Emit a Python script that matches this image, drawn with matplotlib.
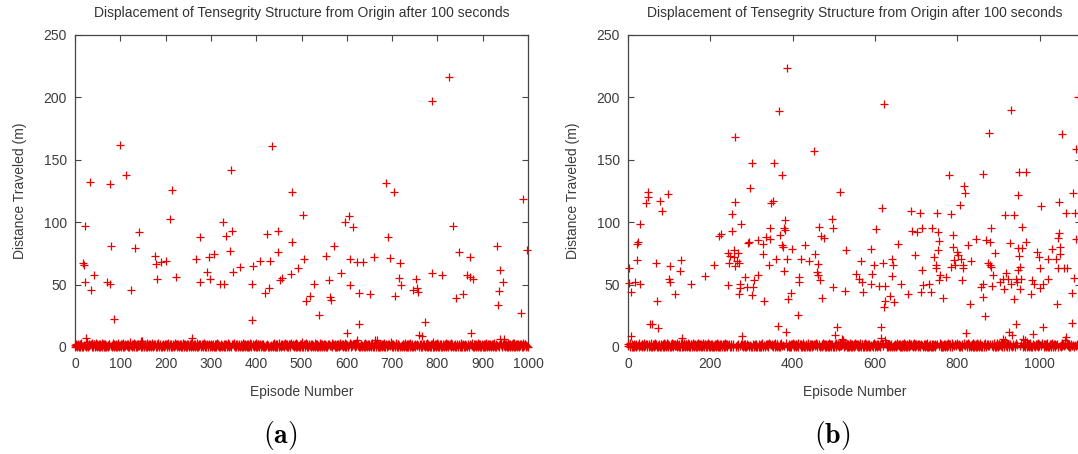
import numpy as np
import matplotlib
matplotlib.use("Agg")
import matplotlib.pyplot as plt

plt.rcParams['font.family'] = ['Liberation Sans', 'DejaVu Sans']
plt.rcParams['mathtext.fontset'] = 'cm'

TITLE = "Displacement of Tensegrity Structure from Origin after 100 seconds"
XLABEL = "Episode Number"
YLABEL = "Distance Traveled (m)"
PANEL_LABELS = [r"$\mathbf{(a)}$", r"$\mathbf{(b)}$"]
YTICKS = [0, 50, 100, 150, 200, 250]
XTICKS_A = [0, 100, 200, 300, 400, 500, 600, 700, 800, 900, 1000]
XTICKS_B = [0, 200, 400, 600, 800, 1000]
XLIM_A = (0, 1000)
XLIM_B = (0, 1100)
YLIM = (0, 250)

# Near-zero episodes: one digit per episode, each digit = 0.7 m
BASE_STEP = 0.7
BASE_A = (
    "2013021402310520130241032016203140213052013402150312041302150230140320512031402130251403210420315023"
    "1302410520312014023106201304215031024013201420315023104201350213041203150241032013052014203102140231"
    "0413025102301420312051302401320140230152031420130241031250140231402130520134021031402501320412031502"
    "3120410230140251302140312051302401320514021302410315201304210312041302501420312040130251042031402130"
    "5203140213024103201502134021503120413021502301403205120314021302514032104203150231302410520312014023"
    "1062013042150310240132014203150231042013502130412031402501320412031502312041023014025130214031205130"
    "2401320514021302410315201304210312041302501420312040130251042031402130201302140231052013024103201620"
    "3140213052013402150312041302150230140320512031402130251403210420315023130241052031201402310620130421"
    "5031024013201420315023104201350213041203150241032013052014203102140231041302510230142031205130240132"
    "0140230152031420130241031250140231402130520134021031402501320412031502520314021302410320150213402150"
)
BASE_B = (
    "1302502140302140512031402305120213402150321042031502413025104120315023014021305203120415023102510420"
    "2031405213024130215031204130251042031502413021502301403205120314021302514032104203150231302410520312"
    "0140231062013042150310240132014203150231042013502130412031502410320130520142031021402310413025102301"
    "4203120513024013201402301520314201302410312501402314021305201340210314025013204120315023120410230140"
    "2513021403120513024013205140213024103152013042103120413025014203120401302510420314021305203140213024"
    "1032015021340215031204130215023014032051203140213025140321042031502313024105203120140231062013042150"
    "3102401320142031502310420135021304120314025013204120315023120410230140251302140312051302401320514021"
    "3024103152013042103120413025014203120401302510420314021305201302502140302140512031402305120213402150"
    "3210420315024130251041203150230140213052031204150231025104202031405213024130215031204130251042031502"
    "4130215023014032051203140213025140321042031502313024105203120140231062013042150310240132014203150231"
    "0420135021304120315024103201305201420310214023104130251023014203120513024013201402301520314201302410"
)

# Episodes that moved well away from the origin: (episode, distance in m)
OUT_EP_A = [33, 77, 99, 113, 214, 345, 434, 480, 686, 705, 787, 826, 988,
            22, 17, 20, 23, 35, 41, 24, 80, 70, 78, 85, 123, 133, 141, 209,
            176, 178, 180, 190, 200, 223, 259, 268, 276, 277, 292, 296, 297,
            307, 320, 330, 326, 333, 347, 343, 348, 365, 390, 391, 394, 408,
            423, 430, 419, 428, 448, 449, 453, 458, 476, 478, 493, 503, 505,
            510, 518, 527, 539, 555, 560, 564, 565, 571, 587, 597, 604, 614,
            606, 608, 601, 622, 635, 628, 627, 623, 651, 659, 663, 692, 695,
            706, 717, 716, 719, 746, 753, 756, 757, 759, 773, 789, 810, 835,
            848, 841, 856, 873, 865, 872, 879, 874, 932, 939, 945, 946, 937,
            934, 938, 984, 998, 146, 148, 766, 667]
OUT_VAL_A = [132.5, 130.6, 161.6, 137.6, 125.6, 141.6, 160.8, 124.2, 131.2, 124.2, 196.9, 216.3, 118.6,
             97.2, 67.6, 65.5, 52.3, 45.9, 57.9, 7.5, 81.2, 51.8, 50.2, 22.7, 45.4, 79.1, 92.4, 102.8,
             72.9, 66.5, 54.5, 68.4, 68.9, 55.8, 7.5, 70.3, 88.1, 52.3, 59.8, 72.4, 54.5,
             74.5, 50.2, 50.2, 99.9, 88.9, 93.2, 77.2, 59.8, 63.8, 50.7, 21.6, 65.2, 68.9,
             90.5, 68.9, 43.3, 47.3, 92.9, 75.9, 53.7, 55.5, 58.5, 84.1, 63.3, 106.0, 70.8,
             36.9, 40.6, 50.2, 25.4, 72.9, 53.7, 39.8, 37.7, 80.7, 59.3, 99.9, 105.0, 95.9,
             70.3, 49.4, 11.5, 68.4, 68.4, 43.3, 18.4, 5.6, 42.7, 72.4, 5.6, 88.1, 71.6,
             41.1, 67.5, 55.0, 49.4, 45.7, 54.5, 47.0, 44.3, 9.3, 20.3, 59.0, 57.7, 97.2,
             75.9, 39.3, 42.5, 72.4, 57.9, 56.1, 54.5, 11.5, 80.7, 61.9, 52.3, 6.4, 44.9,
             33.7, 6.7, 27.5, 77.7, 4.8, 5.0, 9.0, 5.6]

OUT_EP_B = [386, 367, 260, 451, 300, 354, 375, 297, 49, 48, 98,
            43, 78, 82, 29, 25, 23, 22, 2, 3, 7, 16, 30, 67, 71, 99, 102, 103, 115,
            128, 126, 153, 187, 208, 220, 225, 244, 243, 248, 246, 253, 252, 259, 258,
            257, 261, 264, 267, 270, 275, 271, 272, 269, 284, 288, 291, 293, 301, 304,
            307, 315, 316, 328, 329, 330, 335, 342, 344, 345, 347, 351, 359, 364, 368,
            373, 377, 378, 381, 380, 382, 383, 387, 389, 397, 399, 415, 416, 414, 430,
            420, 439, 455, 461, 459, 462, 465, 468, 467, 472, 475, 495, 498, 499, 503,
            507, 516, 54, 58, 72, 8, 130,
            621, 929, 876, 1055, 1087, 779, 863, 950, 967, 815, 819, 947, 1080, 1092,
            530, 528, 520, 617, 602, 589, 566, 554, 562, 568, 571, 593, 597, 591, 609,
            625, 618, 624, 622, 637, 645, 642, 643, 641, 655, 662, 615, 614, 679, 686,
            708, 689, 701, 714, 698, 713, 716, 711, 730, 735, 739, 750, 753, 755, 752,
            743, 748, 749, 758, 756, 771, 764, 785, 790, 788, 799, 802, 791, 784, 795,
            809, 814, 813, 811, 807, 825, 832, 830, 821, 846, 857, 862, 861, 869, 878,
            882, 875, 879, 881, 886, 883, 892, 868, 916, 937, 957, 928, 948, 956, 949,
            966, 953, 946, 917, 911, 922, 903, 914, 930, 942, 944, 955, 951, 938, 941,
            926, 932, 958, 910, 979, 982, 986, 992, 997, 1000, 1001, 1008, 1020, 1021,
            1029, 1003, 1046, 1047, 1044, 1050, 1048, 1039, 1045, 1058, 1066, 1064, 1085,
            1088, 1082, 1079, 1041, 1077, 1063, 1007,
            276, 522, 623, 915, 965, 984, 1062]
OUT_VAL_B = [223.3, 189.4, 168.5, 156.8, 147.2, 147.7, 138.1, 127.2, 124.2, 120.0, 122.4,
             115.6, 117.2, 109.0, 98.8, 84.1, 82.8, 69.7, 63.3, 51.5, 44.3, 52.3, 50.2, 67.5, 36.9, 54.5, 52.3, 64.6, 42.5,
             70.0, 61.1, 50.7, 56.9, 66.0, 88.9, 90.8, 49.4, 75.6, 72.9, 67.1, 106.3, 92.9, 115.9, 77.7,
             72.4, 64.9, 68.9, 75.1, 67.5, 98.6, 50.2, 47.5, 42.2, 55.8, 48.3, 83.1, 84.4, 41.4, 48.3,
             53.4, 57.7, 85.7, 82.5, 74.5, 36.6, 88.4, 66.0, 86.8, 95.1, 115.1, 117.0, 70.8, 16.8, 89.7,
             81.7, 80.4, 95.1, 93.8, 61.1, 101.5, 11.8, 70.8, 38.5, 43.5, 78.5, 56.3, 51.8, 25.9, 81.5,
             70.3, 68.9, 74.5, 66.5, 60.3, 57.7, 96.4, 89.2, 53.7, 39.3, 87.1, 102.3, 95.6, 48.1, 9.4,
             16.0, 124.0, 18.7, 18.7, 15.0, 9.1, 7.0,
             195.0, 189.9, 171.2, 170.7, 158.4, 137.6, 138.9, 140.2, 140.2, 128.8, 123.4, 121.6, 123.6, 200.0,
             77.7, 45.1, 6.7, 111.6, 94.3, 78.5, 68.9, 58.3, 54.5, 52.3, 43.8, 58.3, 65.7, 50.7, 48.6,
             48.6, 67.5, 37.1, 32.3, 41.1, 35.8, 70.3, 65.5, 57.1, 82.8, 50.2, 16.3, 7.0, 42.5, 109.0,
             107.6, 93.2, 91.9, 95.1, 73.7, 61.7, 49.7, 43.8, 50.2, 44.3, 95.6, 107.6, 92.4, 84.9, 77.7,
             71.9, 65.7, 63.1, 57.7, 53.7, 55.8, 39.5, 106.3, 89.7, 80.4, 76.4, 73.7, 69.7, 63.9, 65.7,
             70.5, 65.7, 63.1, 53.7, 113.5, 81.7, 68.9, 34.2, 11.5, 86.8, 48.3, 50.7, 40.3, 85.7, 84.4,
             95.1, 67.1, 65.7, 63.9, 57.7, 49.1, 75.1, 25.1, 105.8, 105.8, 96.4, 83.6, 79.1, 79.1, 73.2,
             84.4, 63.9, 61.7, 59.5, 54.5, 54.5, 52.3, 46.2, 50.2, 54.5, 52.3, 54.5, 46.2, 38.5, 18.4,
             12.3, 9.4, 6.2, 6.2, 42.5, 53.7, 50.2, 76.4, 72.4, 63.1, 47.0, 50.5, 70.3, 54.2,
             78.5, 113.0, 116.4, 91.6, 87.1, 80.4, 74.5, 70.5, 63.5, 63.1, 63.1, 107.1, 107.1,
             86.5, 55.5, 43.0, 34.2, 19.0, 8.3, 16.3,
             8.7, 5.9, 5.9, 5.9, 5.9, 10.3, 6.0]


def episode_series(base_digits, out_ep, out_val):
    dist = np.array([int(c) for c in base_digits], dtype=float) * BASE_STEP
    dist[np.array(out_ep)] = np.array(out_val)
    return np.arange(len(dist)), dist


W, H = 1078, 454
fig = plt.figure(figsize=(W / 100, H / 100), dpi=100)

RED = '#e60000'
FRAME = '#454545'
LABEL_C = '#3c3c3c'

panels = [
    (75, BASE_A, OUT_EP_A, OUT_VAL_A, XTICKS_A, XLIM_A, 280),
    (628, BASE_B, OUT_EP_B, OUT_VAL_B, XTICKS_B, XLIM_B, 832),
]

for (left_px, base, oep, oval, xticks, xlim, cap_x), cap in zip(panels, PANEL_LABELS):
    ax = fig.add_axes([left_px / W, (H - 347) / H, 453 / W, 312 / H])
    x, y = episode_series(base, oep, oval)
    ax.plot(x, y, linestyle='none', marker='+', ms=5.5, mew=0.9,
            color=RED, clip_on=False, zorder=3)
    ax.set_xlim(*xlim)
    ax.set_ylim(*YLIM)
    ax.set_xticks(xticks)
    ax.set_yticks(YTICKS)
    ax.tick_params(direction='in', length=4, width=0.8, top=True, right=True,
                   color=FRAME, labelcolor=LABEL_C, labelsize=10)
    ax.tick_params(axis='x', pad=7)
    ax.tick_params(axis='y', pad=6)
    for sp in ax.spines.values():
        sp.set_color(FRAME)
        sp.set_linewidth(0.9)
        sp.set_zorder(1)
    ax.set_title(TITLE, fontsize=10, color='#333333', pad=13)
    ax.set_xlabel(XLABEL, fontsize=10, color=LABEL_C, labelpad=10)
    ax.set_ylabel(YLABEL, fontsize=10, color=LABEL_C, labelpad=12)
    fig.text(cap_x / W, 1 - 436 / H, cap, fontsize=20, ha='center', va='center')

fig.savefig('out.png', dpi=100, facecolor='white')
